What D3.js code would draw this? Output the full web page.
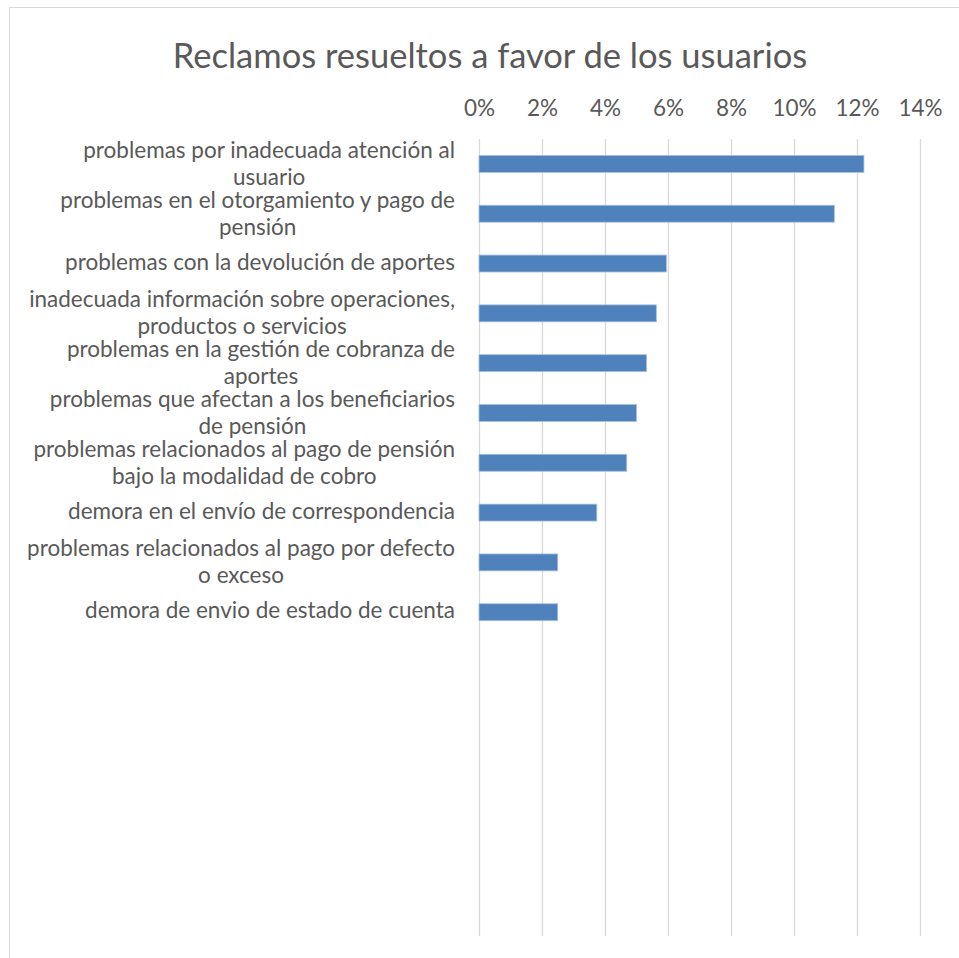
<!DOCTYPE html>
<html>
<head>
<meta charset="utf-8">
<script src="https://cdn.jsdelivr.net/npm/d3@7"></script>
<style>
  body { margin: 0; background: #fff; }
  svg { display: block; font-family: Lato, 'Open Sans', sans-serif; }
</style>
</head>
<body>
<div id="chart"></div>
<script>
const title = 'Reclamos resueltos a favor de los usuarios'

// labels as wrapped in the original, top to bottom
const categories = [
  ['problemas por inadecuada atención al', 'usuario'],
  ['problemas en el otorgamiento y pago de', 'pensión'],
  ['problemas con la devolución de aportes'],
  ['inadecuada información sobre operaciones,', 'productos o servicios'],
  ['problemas en la gestión de cobranza de', 'aportes'],
  ['problemas que afectan a los beneficiarios', 'de pensión'],
  ['problemas relacionados al pago de pensión', 'bajo la modalidad de cobro'],
  ['demora en el envío de correspondencia'],
  ['problemas relacionados al pago por defecto', 'o exceso'],
  ['demora de envio de estado de cuenta']
]
const values = [0.1222, 0.1128, 0.0595, 0.0563, 0.0532, 0.0500, 0.0469, 0.0374, 0.0250, 0.0250]
const ticks = [0, 0.02, 0.04, 0.06, 0.08, 0.10, 0.12, 0.14]
const slots = 16 // the axis keeps room for 6 empty categories below

const width = 959
const height = 958
const margin = { top: 139, left: 479, right: 39, bottom: 22 }

const svg = d3
  .select('#chart')
  .append('svg')
  .attr('width', width)
  .attr('height', height)

svg
  .append('rect')
  .attr('x', 9.5)
  .attr('y', 7.5)
  .attr('width', width + 20)
  .attr('height', height + 20)
  .attr('fill', 'none')
  .attr('stroke', '#d9d9d9')

const x = d3
  .scaleLinear()
  .domain([0, 0.14])
  .range([margin.left, width - margin.right])

const y = d3
  .scaleBand()
  .domain(d3.range(slots))
  .range([margin.top, height - margin.bottom])
  .paddingInner(0.66)
  .paddingOuter(0.33)

svg
  .append('text')
  .attr('x', 490)
  .attr('y', 68)
  .attr('text-anchor', 'middle')
  .attr('fill', '#595959')
  .style('font-size', '34.5px')
  .text(title)

// top axis with gridlines
const axis = svg
  .append('g')
  .attr('transform', `translate(0,${margin.top})`)
  .call(
    d3
      .axisTop(x)
      .tickValues(ticks)
      .tickFormat(d3.format('.0%'))
      .tickSize(-(height - margin.bottom - margin.top))
      .tickPadding(23)
  )

axis.select('.domain').remove()
axis.selectAll('.tick line').attr('stroke', '#d9d9d9').attr('stroke-width', 1.3)
axis
  .selectAll('.tick text')
  .attr('fill', '#595959')
  .style('font-size', '22.5px')
  .style('font-family', 'Lato, sans-serif')

svg
  .selectAll('.bar')
  .data(values)
  .enter()
  .append('rect')
  .attr('class', 'bar')
  .attr('x', x(0))
  .attr('y', (d, i) => y(i))
  .attr('width', d => x(d) - x(0))
  .attr('height', y.bandwidth())
  .attr('fill', '#4f81bd')
  .attr('stroke', '#a7c0de')
  .attr('stroke-width', 0.8)

// category labels: block right-aligned, lines centred within it
const labelRight = 455
svg
  .selectAll('.label')
  .data(categories)
  .enter()
  .append('text')
  .attr('class', 'label')
  .attr('text-anchor', 'middle')
  .attr('fill', '#595959')
  .style('font-size', '22.5px')
  .each(function(lines, i) {
    const t = d3.select(this)
    const cy = y(i) + y.bandwidth() / 2
    const offsets = lines.length === 1 ? [6] : [-6, 21]
    lines.forEach((line, j) => {
      t.append('tspan').attr('y', cy + offsets[j]).text(line)
    })
    let maxW = 0
    t.selectAll('tspan').each(function() {
      maxW = Math.max(maxW, this.getComputedTextLength())
    })
    t.selectAll('tspan').attr('x', labelRight - maxW / 2)
  })
</script>
</body>
</html>
